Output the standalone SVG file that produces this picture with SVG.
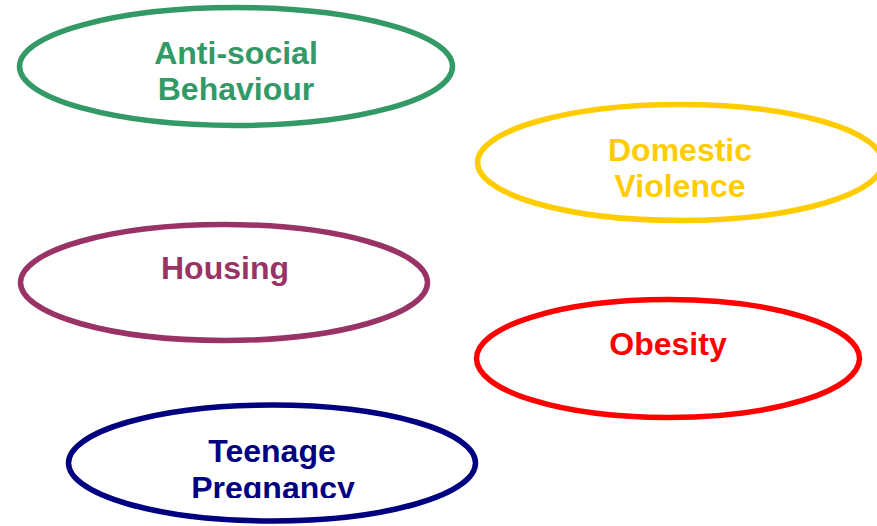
<svg xmlns="http://www.w3.org/2000/svg" width="877" height="526" viewBox="0 0 877 526">
<style>
.node ellipse{fill:#FFFFFF;stroke-width:5.5}
.node text{font-family:"Liberation Sans",Arial,sans-serif;font-weight:bold;font-size:32px;text-anchor:middle}
</style>
<defs>
<clipPath id="clipTeen"><rect x="0" y="0" width="877" height="498"/></clipPath>
</defs>
<rect x="0" y="0" width="877" height="526" fill="#FFFFFF"/>
<g id="connectors"></g>
<g id="antisocial" class="node">
<ellipse cx="236" cy="66.5" rx="216.5" ry="59" stroke="#339966"/>
<text fill="#339966"><tspan x="236" y="63.5">Anti-social</tspan><tspan x="236" y="100">Behaviour</tspan></text>
</g>
<g id="domestic" class="node">
<ellipse cx="680" cy="162.5" rx="202.5" ry="58" stroke="#FFCC00"/>
<text fill="#FFCC00"><tspan x="680" y="160.5">Domestic</tspan><tspan x="680" y="196.5">Violence</tspan></text>
</g>
<g id="housing" class="node">
<ellipse cx="224" cy="282.5" rx="203.5" ry="58" stroke="#993366"/>
<text x="225" y="279" fill="#993366">Housing</text>
</g>
<g id="obesity" class="node">
<ellipse cx="668" cy="358.5" rx="191.5" ry="59" stroke="#FF0000"/>
<text x="668" y="354.5" fill="#FF0000">Obesity</text>
</g>
<g id="teenage" class="node">
<ellipse cx="272" cy="463" rx="203.5" ry="58" stroke="#000080"/>
<text fill="#000080" clip-path="url(#clipTeen)"><tspan x="272" y="461.7">Teenage</tspan><tspan x="273" y="499">Pregnancy</tspan></text>
</g>
</svg>
